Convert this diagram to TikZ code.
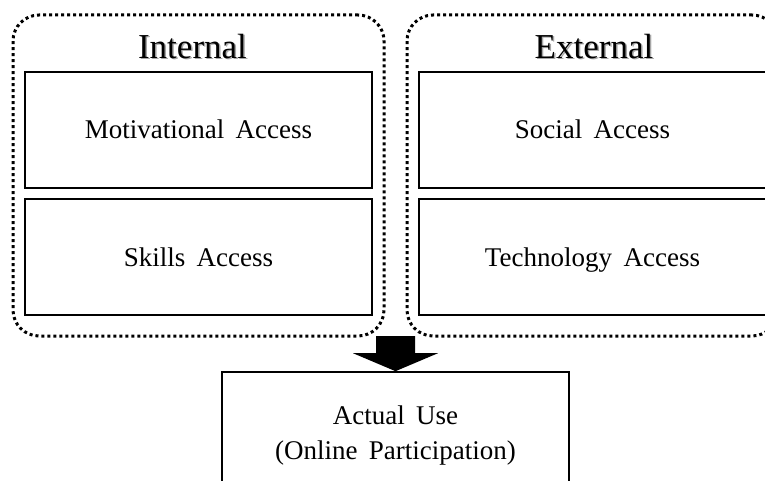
\documentclass[tikz,border=0pt]{standalone}
\usepackage{fontspec}
\setmainfont{Liberation Serif}[WordSpace=1.7]
\usetikzlibrary{calc}
\begin{document}
\begin{tikzpicture}[x=1pt,y=-1pt,
  group/.style={draw, line width=3pt, dash pattern=on 3pt off 3pt, rounded corners=26pt,
    minimum width=371pt, minimum height=321pt, inner sep=0pt},
  accbox/.style={draw, line width=1.6pt, minimum width=347pt, minimum height=116pt,
    inner sep=0pt, text height=19pt, text depth=1pt, font=\fontsize{27}{32}\selectfont},
  title/.style={font=\fontsize{35}{40}\selectfont, inner sep=0pt},
  shadowtxt/.style={title, text=black!35}]
\useasboundingbox (0,0) rectangle (765,481);
\clip (0,0) rectangle (765,481);

% group frames
\node[group] (gint) at (198.5,175.5) {};
\node[group] (gext) at (592.5,175.5) {};

% titles with soft shadow
\node[shadowtxt] at (194,48) {Internal};
\node[title] (tint) at (192.5,46.5) {Internal};
\node[shadowtxt] at (595.5,48) {External};
\node[title] (text) at (594,46.5) {External};

% access boxes
\node[accbox] (mot) at (198.5,130) {Motivational Access};
\node[accbox] (skl) at (198.5,257) {Skills Access};
\node[accbox] (soc) at (592.5,130) {Social Access};
\node[accbox] (tec) at (592.5,257) {Technology Access};

% actual use
\node[draw, line width=1.6pt, minimum width=347pt, minimum height=122pt, inner sep=0pt] (use) at (395.5,433) {};
\node[align=center, inner sep=0pt, font=\fontsize{27}{35}\selectfont] (usetxt) at (395.5,436)
  {Actual Use\\(Online Participation)};

% block arrow into actual use
\fill ($(use.north)+(-19.5,-35)$) -- ($(use.north)+(19.5,-35)$)
  -- ($(use.north)+(19.5,-18)$) -- ($(use.north)+(42.5,-18)$)
  -- (use.north) -- ($(use.north)+(-42.5,-18)$)
  -- ($(use.north)+(-19.5,-18)$) -- cycle;
\end{tikzpicture}
\end{document}
